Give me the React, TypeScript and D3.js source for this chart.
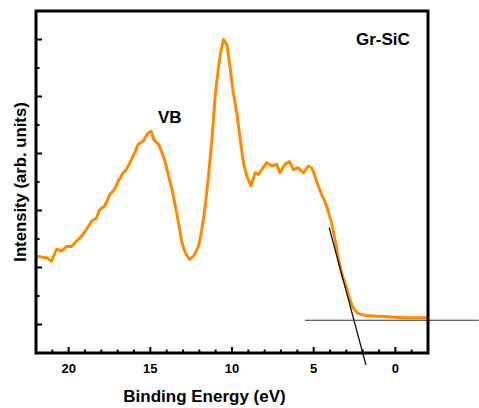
import React from "react";
import * as d3 from "d3";

const energy = [21.95, 21.6, 21.35, 21.05, 20.74, 20.43, 20.13, 19.82, 19.52, 19.21, 18.91, 18.6, 18.3, 18.09, 17.79, 17.48, 17.18, 16.97, 16.66, 16.46, 16.16, 15.96, 15.75, 15.44, 15.14, 14.94, 14.8, 14.73, 14.49, 14.28, 14.08, 13.88, 13.67, 13.47, 13.27, 13.06, 12.86, 12.6, 12.35, 12.05, 11.84, 11.64, 11.44, 11.23, 11.03, 10.82, 10.66, 10.52, 10.31, 10.15, 9.95, 9.7, 9.5, 9.3, 9.09, 8.85, 8.58, 8.38, 8.17, 7.87, 7.56, 7.26, 7.06, 6.75, 6.49, 6.24, 5.94, 5.63, 5.33, 5.12, 4.92, 4.72, 4.51, 4.31, 4.11, 3.9, 3.7, 3.49, 3.29, 3.02, 2.78, 2.58, 2.27, 1.86, 1.36, 0.54, -0.48, -1.5, -1.98];
const intensity = [1.2, 1.18, 1.17, 1.11, 1.32, 1.29, 1.37, 1.37, 1.46, 1.55, 1.67, 1.81, 1.87, 2.02, 2.08, 2.28, 2.37, 2.51, 2.66, 2.72, 2.89, 3.01, 3.16, 3.22, 3.36, 3.39, 3.25, 3.22, 3.16, 3.01, 2.84, 2.6, 2.37, 2.08, 1.78, 1.43, 1.26, 1.14, 1.2, 1.37, 1.67, 2.08, 2.6, 3.25, 4.01, 4.53, 4.82, 5.0, 4.91, 4.59, 4.12, 3.71, 3.25, 2.84, 2.6, 2.43, 2.66, 2.63, 2.72, 2.84, 2.78, 2.81, 2.66, 2.81, 2.86, 2.72, 2.75, 2.66, 2.78, 2.75, 2.6, 2.43, 2.28, 2.16, 1.99, 1.78, 1.5, 1.16, 0.91, 0.67, 0.44, 0.29, 0.19, 0.16, 0.15, 0.135, 0.12, 0.12, 0.12];

const tangentLine = [
  { e: 4.05, v: 1.7 },
  { e: 1.8, v: -0.71 },
];
const baselineLine = [
  { e: 5.53, v: 0.075 },
  { e: -5.1, v: 0.075 },
];

const xMajorTicks = [20, 15, 10, 5, 0];
const xMinorTicks = d3.range(-1, 22, 1);
const yMajorTicks = [0, 1, 2, 3, 4, 5];
const yMinorTicks = [0.5, 1.5, 2.5, 3.5, 4.5];

const xLabel = "Binding Energy (eV)";
const yLabel = "Intensity (arb. units)";
const peakLabel = "VB";
const sampleLabel = "Gr-SiC";

const W = 479;
const H = 408;
const left = 36;
const right = 428;
const top = 11;
const bottom = 353;

export default function App() {
  const x = d3.scaleLinear().domain([22, -2]).range([left, right]);
  const y = d3.scaleLinear().domain([-0.5, 5.5]).range([bottom, top]);
  const pts = energy.map((e, i) => ({ e, v: intensity[i] }));
  const line = d3
    .line<{ e: number; v: number }>()
    .x((d) => x(d.e))
    .y((d) => y(d.v));
  const font = "'Liberation Sans', Arial, sans-serif";
  return (
    <svg
      width={W}
      height={H}
      style={{ position: "absolute", left: 0, top: 0, background: "#fff" }}
      fontFamily={font}
      fontWeight="bold"
    >
      <path d={line(pts) || ""} fill="none" stroke="#FF8A00" strokeWidth={3} strokeLinejoin="round" />
      <path d={line(tangentLine) || ""} fill="none" stroke="#111" strokeWidth={1.3} />
      <path d={line(baselineLine) || ""} fill="none" stroke="#333" strokeWidth={1.2} />
      {xMinorTicks.map((t) => (
        <line
          key={"xm" + t}
          x1={x(t)}
          x2={x(t)}
          y1={bottom}
          y2={bottom - (t % 5 === 0 ? 6 : 3.5)}
          stroke="#000"
          strokeWidth={2}
        />
      ))}
      {yMajorTicks.map((t) => (
        <line key={"yM" + t} x1={left} x2={left + 6} y1={y(t)} y2={y(t)} stroke="#000" strokeWidth={2} />
      ))}
      {yMinorTicks.map((t) => (
        <line key={"ym" + t} x1={left} x2={left + 3.5} y1={y(t)} y2={y(t)} stroke="#000" strokeWidth={2} />
      ))}
      <rect
        x={left}
        y={top}
        width={right - left}
        height={bottom - top}
        fill="none"
        stroke="#000"
        strokeWidth={3}
      />
      {xMajorTicks.map((t) => (
        <text key={"xl" + t} x={x(t)} y={373} textAnchor="middle" fontSize={13}>
          {t}
        </text>
      ))}
      <text x={204.5} y={401.5} textAnchor="middle" fontSize={17}>
        {xLabel}
      </text>
      <text
        transform={`translate(26, 182) rotate(-90)`}
        textAnchor="middle"
        fontSize={16.7}
      >
        {yLabel}
      </text>
      <text x={158} y={122.5} fontSize={17}>
        {peakLabel}
      </text>
      <text x={356} y={45} fontSize={17}>
        {sampleLabel}
      </text>
    </svg>
  );
}
